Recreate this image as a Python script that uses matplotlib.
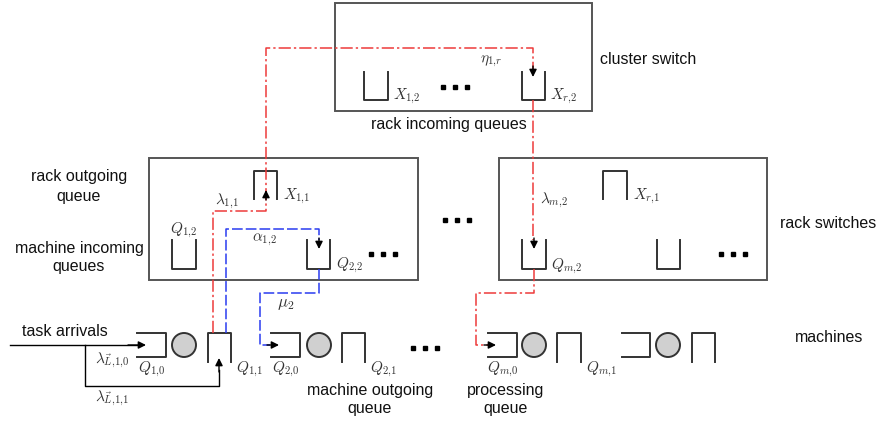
import matplotlib.pyplot as plt
from matplotlib.patches import Rectangle, Circle

plt.rcParams['font.family'] = ['Liberation Sans', 'DejaVu Sans']
plt.rcParams['mathtext.fontset'] = 'cm'

# boxes: (left, top, right, bottom) in pixel coords of the picture
cluster_box = (335, 3, 592, 111)
rack_boxes = [(149, 158, 418, 280), (499, 158, 767, 280)]

# machines: x of the processing queue, circle centre, outgoing queue
machine_x = [(137, 166, 184, 208, 231),
             (271, 300, 319, 342, 365),
             (488, 517, 534, 557, 581),
             (622, 650, 668, 692, 715)]
machine_labels = [(r'$Q_{1{,}0}$', r'$Q_{1{,}1}$'), (r'$Q_{2{,}0}$', r'$Q_{2{,}1}$'),
                  (r'$Q_{m{,}0}$', r'$Q_{m{,}1}$'), (None, None)]

side_labels = ['cluster switch', 'rack switches', 'machines']

EDGE = '#555555'
QC = '#333333'
RED = '#ee3a3a'
BLUE = '#2a3cf0'

fig = plt.figure(figsize=(8.81, 4.24), dpi=100)
ax = fig.add_axes([0, 0, 1, 1])
ax.set_xlim(0, 881)
ax.set_ylim(424, 0)
ax.axis('off')


def box(b):
    ax.add_patch(Rectangle((b[0], b[1]), b[2] - b[0], b[3] - b[1],
                           fill=False, ec=EDGE, lw=1.4))


def u_queue(x0, x1, yt, yb):
    ax.plot([x0, x0, x1, x1], [yt, yb, yb, yt], color=QC, lw=1.4)


def n_queue(x0, x1, yt, yb):
    ax.plot([x0, x0, x1, x1], [yb, yt, yt, yb], color=QC, lw=1.4)


def c_queue(x0, x1, yt, yb):
    ax.plot([x0, x1, x1, x0], [yt, yt, yb, yb], color=QC, lw=1.4)


def dots(x, y):
    ax.plot([x, x + 12, x + 24], [y, y, y], 's', color='black', ms=3)


def head(x0, y0, x1, y1):
    ax.annotate('', xy=(x1, y1), xytext=(x0, y0),
                arrowprops=dict(arrowstyle='-|>', color='black', lw=1,
                                mutation_scale=11, shrinkA=0, shrinkB=0))


def path(xs, ys, color, ls):
    ax.plot(xs, ys, color=color, lw=1.1, ls=ls)


def txt(x, y, s, size=11.5, ha='center', color='#111111'):
    ax.text(x, y, s, ha=ha, va='center', fontsize=size, color=color)


def mtxt(x, y, s, size=11, ha='left'):
    ax.text(x, y, s, ha=ha, va='center', fontsize=size, color='#333333')


box(cluster_box)
for b in rack_boxes:
    box(b)

# cluster switch queues
u_queue(364, 388, 72, 100)
mtxt(393, 96, r'$X_{1{,}2}$')
dots(443, 87)
u_queue(522, 545, 72, 100)
mtxt(550, 96, r'$X_{r{,}2}$')
mtxt(480, 61, r'$\eta_{1{,}r}$')
txt(648, 60, side_labels[0])
txt(449, 124, 'rack incoming queues')

# rack 1
n_queue(254, 277, 171, 199)
mtxt(283, 196, r'$X_{1{,}1}$')
u_queue(172, 196, 240, 269)
mtxt(184, 230, r'$Q_{1{,}2}$', ha='center')
u_queue(307, 330, 240, 269)
mtxt(336, 265, r'$Q_{2{,}2}$')
dots(371, 254)
mtxt(215, 201, r'$\lambda_{1{,}1}$')
mtxt(252, 240, r'$\alpha_{1{,}2}$')
txt(79, 177, 'rack outgoing')
txt(79, 196, 'queue')
txt(79, 248, 'machine incoming')
txt(79, 267, 'queues')

dots(445, 220)

# rack 2
n_queue(603, 627, 171, 199)
mtxt(633, 196, r'$X_{r{,}1}$')
u_queue(522, 546, 240, 269)
mtxt(551, 266, r'$Q_{m{,}2}$')
u_queue(657, 680, 240, 269)
dots(721, 254)
mtxt(540, 200, r'$\lambda_{m{,}2}$')
txt(828, 224, side_labels[1])

# machines
for (a, b, c, d, e), (l0, l1) in zip(machine_x, machine_labels):
    c_queue(a, b, 333, 357)
    ax.add_patch(Circle((c, 345), 12, fc='#d0d0d0', ec=QC, lw=1.4))
    n_queue(d, e, 333, 362)
    if l0:
        mtxt(a + 15, 369, l0, ha='center')
        mtxt(e + 5, 369, l1)
dots(413, 348)
txt(829, 338, side_labels[2])
txt(65, 332, 'task arrivals')
txt(370, 391, 'machine outgoing')
txt(370, 409, 'queue')
txt(506, 391, 'processing')
txt(506, 409, 'queue')
mtxt(95, 360, r'$\lambda_{\vec{L}{,}1{,}0}$')
mtxt(95, 398, r'$\lambda_{\vec{L}{,}1{,}1}$')
mtxt(277, 305, r'$\mu_2$', size=12)

# task arrivals
ax.plot([10, 137], [345, 345], color='black', lw=1)
head(128, 345, 146, 345)
ax.plot([85, 85, 219, 219], [345, 386, 386, 370], color='black', lw=1)
head(219, 372, 219, 358)

# red path (dash-dot)
RLS = (0, (8, 2, 1.5, 2))
path([213, 213, 266, 266, 533, 533], [333, 211, 211, 48, 48, 70], RED, RLS)
head(266, 200, 266, 190)
head(533, 66, 533, 77)
path([533, 533], [100, 240], RED, RLS)
head(534, 238, 534, 249)
path([534, 534, 476, 476, 488], [269, 293, 293, 345, 345], RED, RLS)
head(484, 345, 496, 345)

# blue path (dashed)
BLS = (0, (7, 2))
path([226, 226, 319, 319], [333, 229, 229, 240], BLUE, BLS)
head(319, 238, 319, 249)
path([319, 319, 260, 260, 270], [269, 293, 293, 345, 345], BLUE, BLS)
head(267, 345, 279, 345)

fig.savefig('out.png', dpi=100)
